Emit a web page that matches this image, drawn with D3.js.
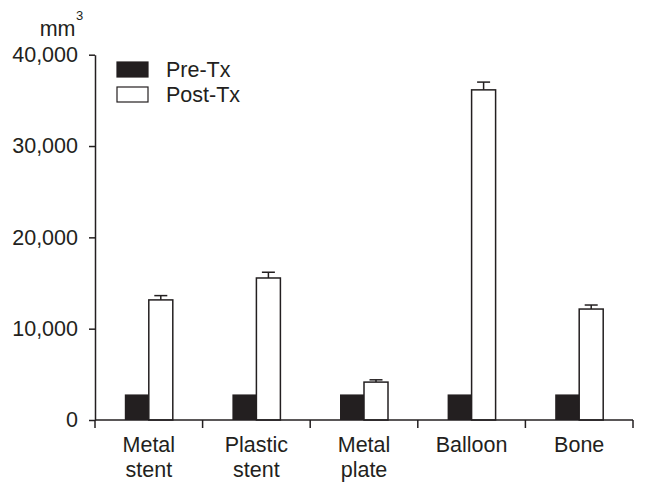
<!DOCTYPE html>
<html>
<head>
<meta charset="utf-8">
<script src="https://cdn.jsdelivr.net/npm/d3@7"></script>
<style>
  body { margin: 0; background: #fff; }
  text { font-family: "Liberation Sans", Arial, sans-serif; fill: #231f20; }
</style>
</head>
<body>
<div id="container"></div>
<script>
/* DATA */
const categories = [["Metal", "stent"], ["Plastic", "stent"], ["Metal", "plate"], ["Balloon"], ["Bone"]];
const series = ["Pre-Tx", "Post-Tx"];
const preTx = [2800, 2800, 2800, 2800, 2800];
const postTx = [13150, 15550, 4150, 36150, 12150];
const postErr = [470, 630, 250, 850, 440];
const yTicks = [0, 10000, 20000, 30000, 40000];

/* CONSTANTS */
const width = 646, height = 493;
const margin = {top: 54.7, right: 13, bottom: 73, left: 95};
const ink = "#231f20";
const fs = 21.5;

const svg = d3.select("#container")
  .append("svg")
  .attr("width", width)
  .attr("height", height);

// SCALES
const keys = categories.map(c => c.join(" "));
const x = d3.scaleBand()
  .domain(keys)
  .range([margin.left, width - margin.right]);

const barW = 24;
const x1 = d3.scaleBand()
  .domain(series)
  .range([x.bandwidth() / 2 - barW, x.bandwidth() / 2 + barW]);

const y = d3.scaleLinear()
  .domain([0, 40000])
  .range([height - margin.bottom, margin.top]);

const rows = keys.map((k, i) => ({key: k, pre: preTx[i], post: postTx[i], err: postErr[i]}));

// BARS
const g = svg.append("g");
const grp = g.selectAll("g.cat")
  .data(rows)
  .join("g")
  .attr("class", "cat")
  .attr("transform", d => `translate(${x(d.key)},0)`);

// error bars (upward only)
grp.append("line")
  .attr("x1", x1("Post-Tx") + barW / 2)
  .attr("x2", x1("Post-Tx") + barW / 2)
  .attr("y1", d => y(d.post))
  .attr("y2", d => y(d.post + d.err))
  .attr("stroke", ink).attr("stroke-width", 1.5);
grp.append("line")
  .attr("x1", x1("Post-Tx") + barW / 2 - 6.5)
  .attr("x2", x1("Post-Tx") + barW / 2 + 6.5)
  .attr("y1", d => y(d.post + d.err))
  .attr("y2", d => y(d.post + d.err))
  .attr("stroke", ink).attr("stroke-width", 1.5);

grp.append("rect")
  .attr("x", x1("Pre-Tx"))
  .attr("width", barW)
  .attr("y", d => y(d.pre))
  .attr("height", d => y(0) - y(d.pre))
  .attr("fill", ink);

grp.append("rect")
  .attr("x", x1("Post-Tx"))
  .attr("width", barW)
  .attr("y", d => y(d.post))
  .attr("height", d => y(0) - y(d.post))
  .attr("fill", "#fff")
  .attr("stroke", ink)
  .attr("stroke-width", 1.5);

// AXES
const yAxis = svg.append("g")
  .attr("transform", `translate(${margin.left},0)`)
  .call(d3.axisLeft(y).tickValues(yTicks).tickFormat(d3.format(",")).tickSize(6).tickSizeOuter(0).tickPadding(11));
yAxis.select(".domain").attr("stroke", ink).attr("stroke-width", 1.5);
yAxis.selectAll(".tick line").attr("stroke", ink).attr("stroke-width", 1.5);
yAxis.selectAll(".tick text").attr("font-size", fs).attr("fill", ink);

const xAxis = svg.append("g")
  .attr("transform", `translate(0,${y(0)})`);
xAxis.append("line")
  .attr("x1", margin.left).attr("x2", width - margin.right)
  .attr("stroke", ink).attr("stroke-width", 1.5);
xAxis.selectAll("line.tk")
  .data(keys.map(k => x(k)).concat([x.range()[1]]))
  .join("line")
  .attr("class", "tk")
  .attr("x1", d => d).attr("x2", d => d)
  .attr("y1", 0).attr("y2", 8)
  .attr("stroke", ink).attr("stroke-width", 1.5);

const lab = xAxis.selectAll("text.cat")
  .data(categories)
  .join("text")
  .attr("class", "cat")
  .attr("text-anchor", "middle")
  .attr("font-size", fs)
  .attr("transform", (d, i) => `translate(${x(keys[i]) + x.bandwidth() / 2},32.3)`);
lab.selectAll("tspan")
  .data(d => d)
  .join("tspan")
  .attr("x", 0)
  .attr("dy", (d, i) => i === 0 ? 0 : 24.4)
  .text(d => d);

// UNIT LABEL
svg.append("text")
  .attr("x", 75.5).attr("y", 36)
  .attr("text-anchor", "end")
  .attr("font-size", fs)
  .text("mm");
svg.append("text")
  .attr("x", 76).attr("y", 20)
  .attr("font-size", 13)
  .text("3");

// LEGEND
const legend = svg.append("g").attr("transform", "translate(117,62)");
const li = legend.selectAll("g")
  .data(series)
  .join("g")
  .attr("transform", (d, i) => `translate(0,${i * 25})`);
li.append("rect")
  .attr("width", 31).attr("height", 15)
  .attr("fill", (d, i) => i === 0 ? ink : "#fff")
  .attr("stroke", ink).attr("stroke-width", 1.2);
li.append("text")
  .attr("x", 49).attr("y", 14.5)
  .attr("font-size", fs)
  .text(d => d);
</script>
</body>
</html>
